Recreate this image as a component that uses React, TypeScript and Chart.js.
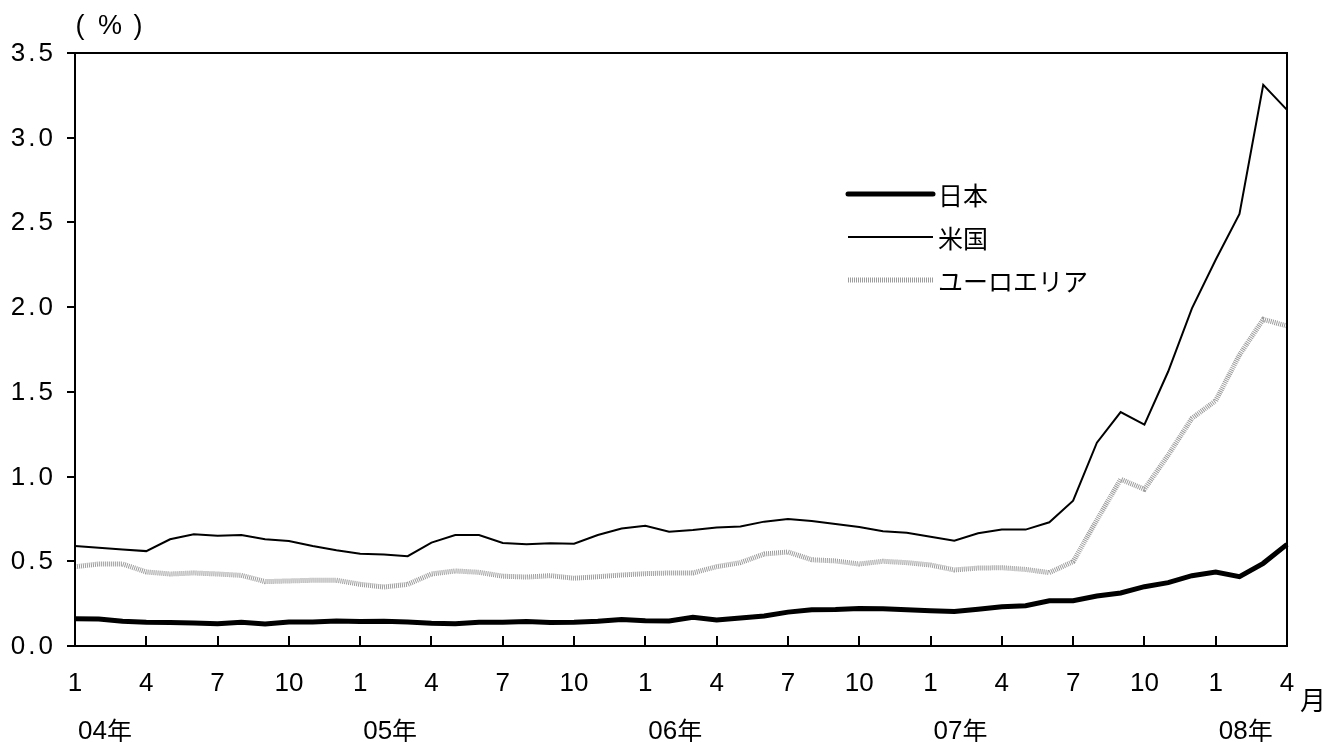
import React, { useEffect, useRef } from "react";
import { Chart, registerables } from "chart.js";

Chart.register(...registerables);

const monthTicks = [
  "1","2","3","4","5","6","7","8","9","10","11","12",
  "1","2","3","4","5","6","7","8","9","10","11","12",
  "1","2","3","4","5","6","7","8","9","10","11","12",
  "1","2","3","4","5","6","7","8","9","10","11","12",
  "1","2","3","4",
];
const yearLabels = ["04年", "05年", "06年", "07年", "08年"];

const japan = [
  0.161, 0.16, 0.146, 0.14, 0.138, 0.136, 0.132, 0.14, 0.13, 0.142, 0.142, 0.148,
  0.144, 0.146, 0.142, 0.134, 0.132, 0.14, 0.14, 0.144, 0.138, 0.14, 0.146, 0.157,
  0.149, 0.148, 0.169, 0.153, 0.165, 0.177, 0.2, 0.214, 0.216, 0.222, 0.22, 0.214,
  0.208, 0.203, 0.217, 0.232, 0.238, 0.267, 0.267, 0.295, 0.313, 0.35, 0.374, 0.415,
  0.437, 0.409, 0.488, 0.6,
];
const us = [
  0.59, 0.58, 0.57, 0.56, 0.63, 0.66, 0.65, 0.655, 0.63, 0.62, 0.59, 0.565,
  0.545, 0.54, 0.53, 0.61, 0.655, 0.655, 0.608, 0.6, 0.607, 0.604, 0.655, 0.693,
  0.71, 0.675, 0.685, 0.7, 0.705, 0.734, 0.75, 0.738, 0.72, 0.702, 0.677, 0.668,
  0.645, 0.622, 0.665, 0.687, 0.687, 0.73, 0.858, 1.2, 1.381, 1.307, 1.62, 1.993,
  2.28, 2.55, 3.312, 3.164,
];
const euro = [
  0.468, 0.484, 0.484, 0.437, 0.425, 0.431, 0.425, 0.417, 0.38, 0.384, 0.388, 0.388,
  0.364, 0.348, 0.364, 0.425, 0.443, 0.435, 0.412, 0.407, 0.415, 0.4, 0.409, 0.419,
  0.427, 0.431, 0.431, 0.468, 0.492, 0.543, 0.555, 0.509, 0.502, 0.484, 0.5, 0.492,
  0.478, 0.449, 0.46, 0.462, 0.452, 0.433, 0.498, 0.744, 0.984, 0.925, 1.127, 1.344,
  1.448, 1.718, 1.928, 1.889,
];
const seriesNames = ["日本", "米国", "ユーロエリア"];

const NUM_FONT = "'Liberation Sans', Arial, sans-serif";
const JP_FONT = "'Noto Sans CJK JP', 'Noto Sans', sans-serif";

const decor = {
  id: "decor",
  afterDraw(chart: any) {
    const ctx = chart.ctx as CanvasRenderingContext2D;
    const { left, right, top, bottom } = chart.chartArea;
    const xs = chart.scales.x;
    const ys = chart.scales.y;
    ctx.save();
    // frame
    ctx.strokeStyle = "#000";
    ctx.lineWidth = 2;
    ctx.strokeRect(left, top, right - left, bottom - top);
    // x ticks (inside)
    ctx.beginPath();
    for (let i = 0; i < monthTicks.length; i += 3) {
      const x = Math.round(xs.getPixelForValue(i));
      ctx.moveTo(x, bottom);
      ctx.lineTo(x, bottom - 10);
    }
    ctx.stroke();
    // y ticks (outside) and labels
    ctx.fillStyle = "#000";
    ctx.font = `26px ${NUM_FONT}`;
    ctx.textAlign = "right";
    ctx.textBaseline = "middle";
    (ctx as any).letterSpacing = "3px";
    ys.ticks.forEach((t: any) => {
      const y = Math.round(ys.getPixelForValue(t.value));
      ctx.beginPath();
      ctx.moveTo(left - 8, y);
      ctx.lineTo(left, y);
      ctx.stroke();
      ctx.fillText(Number(t.value).toFixed(1), left - 19, y + 1);
    });
    (ctx as any).letterSpacing = "0px";
    // year labels
    ctx.textAlign = "left";
    let yi = 0;
    monthTicks.forEach((m, i) => {
      if (m === "1" && yi < yearLabels.length) {
        const x = xs.getPixelForValue(i);
        ctx.font = `26px ${NUM_FONT}`;
        const digits = yearLabels[yi].replace("年", "");
        ctx.fillText(digits, x + 3, 732);
        const w = ctx.measureText(digits).width;
        ctx.font = `25px ${JP_FONT}`;
        ctx.fillText("年", x + 3 + w, 730);
        yi++;
      }
    });
    // 月 unit
    ctx.font = `26px ${JP_FONT}`;
    ctx.textAlign = "center";
    ctx.fillText("月", 1313, 700);
    // (%) unit
    ctx.font = `27px ${NUM_FONT}`;
    ctx.fillText("(", 80, 27);
    ctx.fillText("%", 110, 27);
    ctx.fillText(")", 138, 27);
    // legend
    const legendY = [194, 237, 280];
    chart.data.datasets.forEach((ds: any, i: number) => {
      const y = legendY[i];
      ctx.beginPath();
      ctx.lineWidth = ds.borderWidth;
      ctx.strokeStyle = ds.borderColor;
      ctx.setLineDash(ds.borderDash || []);
      ctx.lineCap = i === 0 ? "round" : "butt";
      ctx.moveTo(848, y);
      ctx.lineTo(933, y);
      ctx.stroke();
      ctx.setLineDash([]);
      ctx.lineCap = "butt";
      ctx.fillStyle = "#000";
      ctx.font = `25px ${JP_FONT}`;
      ctx.textAlign = "left";
      ctx.fillText(ds.label, 938, y + 1);
    });
    ctx.restore();
  },
};

export default function App() {
  const ref = useRef<HTMLCanvasElement>(null);
  useEffect(() => {
    if (!ref.current) return;
    const chart = new Chart(ref.current, {
      type: "line",
      data: {
        labels: monthTicks.map((m, i) => `${i}-${m}`),
        datasets: [
          {
            label: seriesNames[0],
            data: japan,
            borderColor: "#000000",
            borderWidth: 5,
            pointRadius: 0,
            tension: 0,
          },
          {
            label: seriesNames[1],
            data: us,
            borderColor: "#000000",
            borderWidth: 2,
            pointRadius: 0,
            tension: 0,
          },
          {
            label: seriesNames[2],
            data: euro,
            borderColor: "#9c9c9c",
            borderWidth: 5,
            borderDash: [1, 1],
            pointRadius: 0,
            tension: 0,
          },
        ],
      },
      options: {
        animation: false,
        responsive: false,
        devicePixelRatio: 1,
        layout: { padding: { left: 0, right: 41, top: 53, bottom: 0 } },
        plugins: {
          legend: { display: false },
          tooltip: { enabled: false },
        },
        scales: {
          x: {
            type: "category",
            offset: false,
            grid: { display: false },
            border: { display: false },
            ticks: {
              autoSkip: false,
              maxRotation: 0,
              minRotation: 0,
              padding: 14,
              color: "#000",
              font: { family: NUM_FONT, size: 26 },
              callback: (_v: any, idx: number) => (idx % 3 === 0 ? monthTicks[idx] : ""),
            },
            afterFit: (s: any) => {
              s.height = 96;
            },
          },
          y: {
            min: 0,
            max: 3.5,
            grid: { display: false },
            border: { display: false },
            ticks: { stepSize: 0.5, display: false },
            afterFit: (s: any) => {
              s.width = 75;
            },
          },
        },
      },
      plugins: [decor],
    });
    return () => chart.destroy();
  }, []);
  return (
    <div style={{ position: "absolute", left: 0, top: 0, width: 1328, height: 742, background: "#fff" }}>
      <canvas ref={ref} width={1328} height={742} style={{ display: "block" }} />
    </div>
  );
}
